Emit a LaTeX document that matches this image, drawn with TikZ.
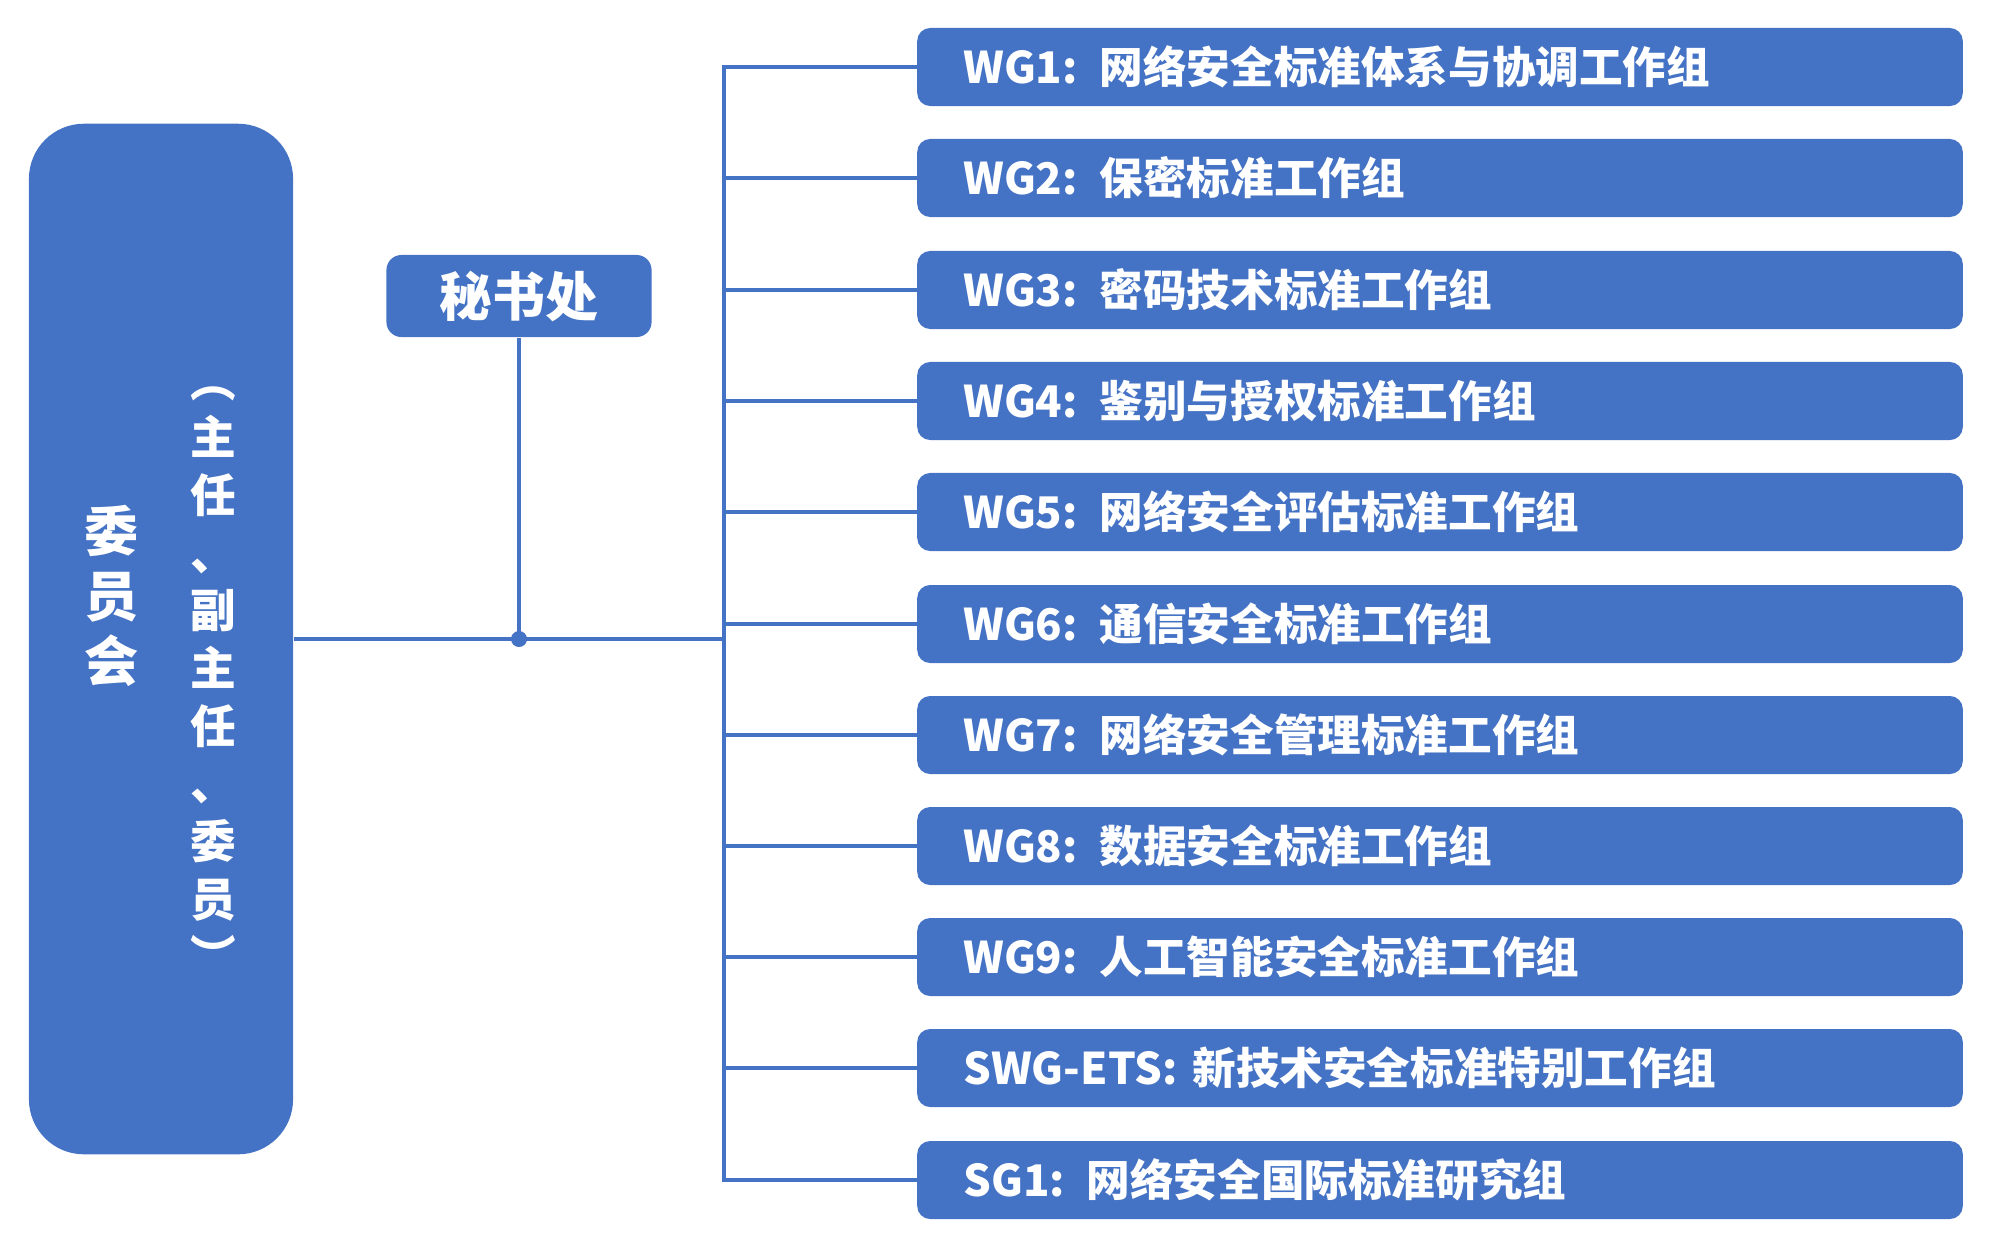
\documentclass[tikz,border=0pt]{standalone}
\usepackage{fontspec}
\setmainfont{Noto Sans CJK SC}
\definecolor{orgblue}{HTML}{4472C4}

\begin{document}
\begin{tikzpicture}[x=0.01cm, y=-0.01cm,
  box/.style={fill=orgblue, text=white},
  wg/.style={box, rounded corners=0.13cm, minimum width=10.45cm, minimum height=0.78cm,
    text width=9.53cm, inner xsep=0.46cm, align=left,
    font=\bfseries\fontsize{12.4pt}{14pt}\selectfont},
  link/.style={orgblue, line width=0.95pt}]
\useasboundingbox (0,0) rectangle (2000,1247);

\node (cmt) at (161,639) [box, rounded corners=0.55cm, minimum width=2.64cm, minimum height=10.3cm] {};
\node (cmtname) at (112,596) [text=white, align=center, font=\bfseries\fontsize{15.4pt}{18.4pt}\selectfont] {委\\员\\会};
\node (cmtnote) at (213,680) [text=white, align=center, font=\bfseries\fontsize{13pt}{16.4pt}\selectfont]
  {︵\\主\\任\\、\\副\\主\\任\\、\\委\\员\\︶};
\node (sec) at (519,296) [box, rounded corners=0.15cm, minimum width=2.65cm, minimum height=0.82cm,
  font=\bfseries\fontsize{15pt}{18pt}\selectfont] {秘书处};

\node  (wg1) at (1440,  67) [wg] {WG1: 网络安全标准体系与协调工作组};
\node  (wg2) at (1440, 178) [wg] {WG2: 保密标准工作组};
\node  (wg3) at (1440, 290) [wg] {WG3: 密码技术标准工作组};
\node  (wg4) at (1440, 401) [wg] {WG4: 鉴别与授权标准工作组};
\node  (wg5) at (1440, 512) [wg] {WG5: 网络安全评估标准工作组};
\node  (wg6) at (1440, 624) [wg] {WG6: 通信安全标准工作组};
\node  (wg7) at (1440, 735) [wg] {WG7: 网络安全管理标准工作组};
\node  (wg8) at (1440, 846) [wg] {WG8: 数据安全标准工作组};
\node  (wg9) at (1440, 957) [wg] {WG9: 人工智能安全标准工作组};
\node  (swg) at (1440,1068) [wg] {SWG-ETS: 新技术安全标准特别工作组};
\node  (sg1) at (1440,1180) [wg] {SG1: 网络安全国际标准研究组};

\coordinate (hub) at (519,639);
\coordinate (bus) at (724,639);

\draw [link] (cmt.east) -- (bus);
\draw [link] (sec) -- (hub);
\fill [orgblue] (hub) circle (0.08cm);
\draw [link] (wg1.west) -- (wg1.west -| bus) -- (sg1.west -| bus) -- (sg1.west);
\foreach \g in {wg2,wg3,wg4,wg5,wg6,wg7,wg8,wg9,swg}
  \draw [link] (\g.west -| bus) -- (\g.west);
\end{tikzpicture}
\end{document}
